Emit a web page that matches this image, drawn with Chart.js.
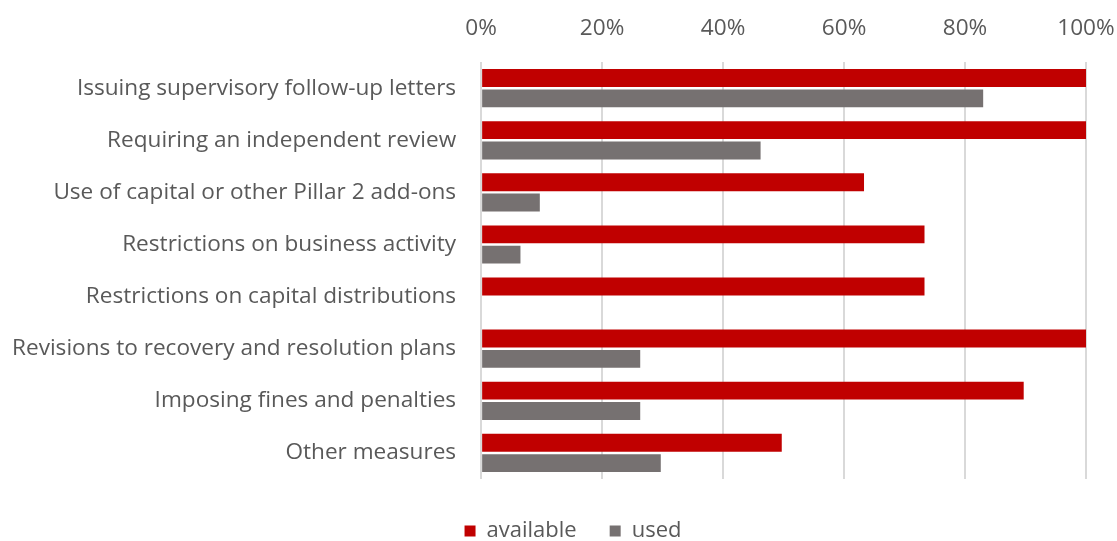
<!DOCTYPE html>
<html>
<head>
<meta charset="utf-8">
<script src="https://cdn.jsdelivr.net/npm/chart.js@4"></script>
<style>
  html, body { margin: 0; padding: 0; background: #fff; }
  #wrap { width: 1117px; height: 541px; }
</style>
</head>
<body>
<div id="wrap"><canvas id="grafico"></canvas></div>
<script>
const categorias = [
    'Issuing supervisory follow-up letters',
    'Requiring an independent review',
    'Use of capital or other Pillar 2 add-ons',
    'Restrictions on business activity',
    'Restrictions on capital distributions',
    'Revisions to recovery and resolution plans',
    'Imposing fines and penalties',
    'Other measures'
];
const available = [100, 100, 63.3, 73.3, 73.3, 100, 89.7, 49.7];
const used = [83, 46.2, 9.7, 6.5, 0, 26.3, 26.3, 29.7];
const ticksX = [0, 20, 40, 60, 80, 100];

const corTexto = '#595959';
const fonte = 'Open Sans';

// empurra a legenda um pouco para a direita, como no original
const deslocaLegenda = {
    id: 'deslocaLegenda',
    afterLayout(chart) {
        chart.legend.left += 21;
        chart.legend.right += 21;
    }
};

new Chart(document.getElementById('grafico').getContext('2d'), {
    type: 'bar',
    data: {
        labels: categorias,
        datasets: [
            { label: 'available', data: available, backgroundColor: '#c00000' },
            { label: 'used', data: used, backgroundColor: '#767171' }
        ]
    },
    options: {
        indexAxis: 'y',
        responsive: true,
        maintainAspectRatio: false,
        animation: false,
        categoryPercentage: 0.78,
        barPercentage: 0.88,
        layout: { padding: { left: -13, right: 0, top: -5, bottom: -11 } },
        scales: {
            x: {
                position: 'top',
                min: 0,
                max: 100,
                afterBuildTicks: (axis) => { axis.ticks = ticksX.map(v => ({ value: v })); },
                // so meia etiqueta de "100%" a direita
                afterFit: (axis) => { axis.paddingRight = 31; },
                ticks: {
                    callback: (v) => v + '%',
                    color: corTexto,
                    font: { family: fonte, size: 22.6 },
                    padding: 20
                },
                grid: { color: '#d9d9d9', lineWidth: 2, drawTicks: false },
                border: { display: false }
            },
            y: {
                ticks: {
                    color: corTexto,
                    font: { family: fonte, size: 22.6 },
                    padding: 25
                },
                grid: { display: false, drawTicks: false },
                border: { display: false }
            }
        },
        plugins: {
            legend: {
                position: 'bottom',
                // titulo vazio so para abrir espaco acima da legenda
                title: { display: true, text: ' ', padding: 0, font: { size: 8, lineHeight: 1 } },
                labels: {
                    color: corTexto,
                    font: { family: fonte, size: 22 },
                    boxWidth: 11,
                    boxHeight: 11,
                    padding: 33
                }
            },
            tooltip: { enabled: false }
        }
    },
    plugins: [deslocaLegenda]
});
</script>
</body>
</html>
